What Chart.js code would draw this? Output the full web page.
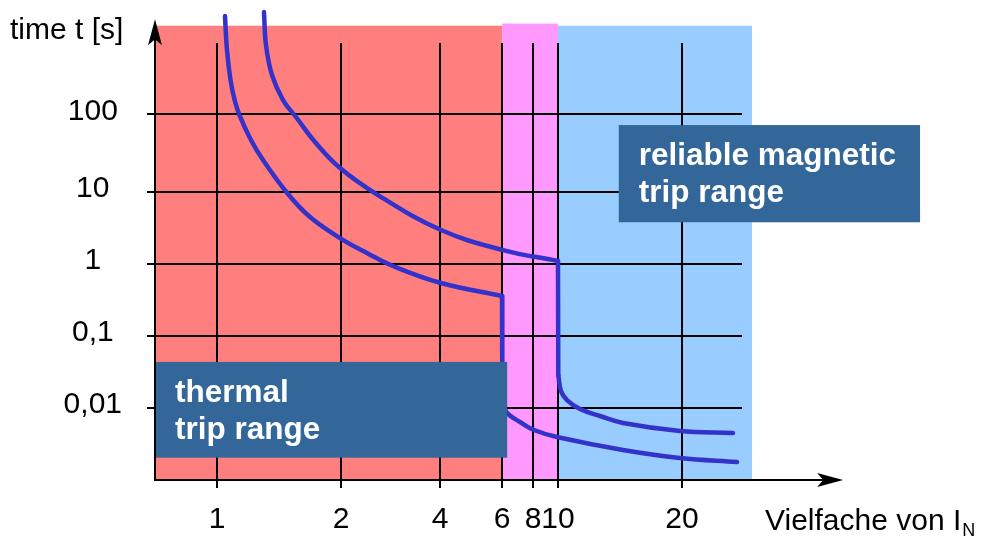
<!DOCTYPE html>
<html>
<head>
<meta charset="utf-8">
<script src="https://cdn.jsdelivr.net/npm/chart.js@4.4.1/dist/chart.umd.min.js"></script>
<style>
html, body { margin:0; padding:0; background:#fff; }
#wrap { width:985px; height:538px; }
</style>
</head>
<body>
<div id="wrap"><canvas id="chart" width="985" height="538"></canvas></div>
<script>
// ======= DATA =======
// schematic x axis: where each labelled multiple of I_N sits along the axis
const xTickLabels = ["1","2","4","6","8","10","20"];
const xTickPos    = [1, 3, 4.6, 5.6, 6.1, 6.5, 8.5];
// y axis: one step per decade of trip time
const yTickLabels = ["0,01","0,1","1","10","100"];
const yTickPos    = [1, 2, 3, 4, 5.08];

// lower trip curve (magnetic release at 6 x I_N)
const curveLowX = [1.129, 1.161, 1.218, 1.284, 1.363, 1.548, 1.742, 2.145, 2.500, 2.984, 3.419, 3.839, 4.613, 5.597, 5.602, 5.637, 5.694, 5.887, 6.113, 6.484, 7.548, 8.468, 9.387];
const curveLowY = [6.444, 5.972, 5.556, 5.278, 5.069, 4.722, 4.444, 3.972, 3.653, 3.361, 3.153, 2.972, 2.736, 2.556, 1.111, 1.000, 0.917, 0.806, 0.694, 0.597, 0.417, 0.306, 0.250];
const lowJump = 13;   // last point before the vertical drop
// upper trip curve (magnetic release at 10 x I_N)
const curveHighX = [1.758, 1.790, 1.887, 2.065, 2.274, 2.581, 2.984, 3.597, 4.613, 5.613, 6.500, 6.505, 6.548, 6.645, 6.855, 7.177, 7.548, 8.468, 9.323];
const curveHighY = [6.500, 6.042, 5.625, 5.278, 5.042, 4.694, 4.333, 3.958, 3.472, 3.194, 3.042, 1.458, 1.236, 1.111, 0.986, 0.889, 0.792, 0.681, 0.653];
const highJump = 10;

// trip zones along the x axis
const zoneFrom = [0, 5.6, 6.5];
const zoneTo   = [5.6, 6.5, 9.63];
const zoneTop  = [6.31, 6.34, 6.31];

// ======= STYLE =======
const FONT = "'Liberation Sans', Arial, sans-serif";
const zoneColors = ["#ff7f7f", "#ff99ff", "#99ccff"];
const LINE_COLOR = "#3333cc";
const BOX_COLOR = "#336699";

// label boxes: lines of text, x range and y range in axis units
const boxes = [
  { lines: ["thermal", "trip range"], x: [0, 5.68], y: [1.64, 0.31] },
  { lines: ["reliable magnetic", "trip range"], x: [7.48, 12.34], y: [4.93, 3.58] }
];

function pts(xs, ys, from, to){
  const out = [];
  for(let i = from; i <= to; i++) out.push({x: xs[i], y: ys[i]});
  return out;
}

// a curve is drawn as smooth upper part, straight drop, smooth lower part
function curveSets(xs, ys, jump){
  const base = {
    borderColor: LINE_COLOR, borderWidth: 4.5, pointRadius: 0, fill: false,
    clip: false, borderCapStyle: "round", borderJoinStyle: "round"
  };
  return [
    Object.assign({ data: pts(xs, ys, 0, jump), tension: 0.4 }, base),
    Object.assign({ data: pts(xs, ys, jump, jump + 1), tension: 0 }, base),
    Object.assign({ data: pts(xs, ys, jump + 1, xs.length - 1), tension: 0.4 }, base)
  ];
}

const decor = {
  id: "decor",
  beforeDraw(chart){
    const ctx = chart.ctx, xs = chart.scales.x, ys = chart.scales.y;
    ctx.save();
    zoneFrom.forEach((f,i) => {
      const x0 = xs.getPixelForValue(f), x1 = xs.getPixelForValue(zoneTo[i]);
      const y0 = ys.getPixelForValue(zoneTop[i]), y1 = ys.getPixelForValue(0);
      ctx.fillStyle = zoneColors[i];
      ctx.fillRect(x0, y0, x1 - x0, y1 - y0);
    });
    ctx.restore();
  },
  afterDatasetsDraw(chart){
    const ctx = chart.ctx, xs = chart.scales.x, ys = chart.scales.y;
    const a = chart.chartArea;
    ctx.save();
    // label boxes
    boxes.forEach(b => {
      const x0 = xs.getPixelForValue(b.x[0]), x1 = xs.getPixelForValue(b.x[1]);
      const y0 = ys.getPixelForValue(b.y[0]), y1 = ys.getPixelForValue(b.y[1]);
      ctx.fillStyle = BOX_COLOR;
      ctx.fillRect(x0, y0, x1 - x0, y1 - y0);
      ctx.fillStyle = "#fff";
      ctx.font = "bold 31.5px " + FONT;
      ctx.textBaseline = "alphabetic";
      ctx.textAlign = "left";
      b.lines.forEach((t, k) => ctx.fillText(t, x0 + 20, y0 + 40 + k * 37));
    });
    // axes with arrows
    const ox = a.left, oy = a.bottom;
    const yTip = ys.getPixelForValue(6.4), xTip = xs.getPixelForValue(11.1);
    ctx.strokeStyle = "#000"; ctx.fillStyle = "#000"; ctx.lineWidth = 2;
    ctx.beginPath();
    ctx.moveTo(ox, oy + 1); ctx.lineTo(ox, yTip + 10);
    ctx.moveTo(ox - 1, oy); ctx.lineTo(xTip - 10, oy);
    ctx.stroke();
    ctx.beginPath();
    ctx.moveTo(ox, yTip); ctx.lineTo(ox + 7, yTip + 26); ctx.lineTo(ox, yTip + 20); ctx.lineTo(ox - 7, yTip + 26);
    ctx.closePath(); ctx.fill();
    ctx.beginPath();
    ctx.moveTo(xTip, oy); ctx.lineTo(xTip - 26, oy - 7); ctx.lineTo(xTip - 20, oy); ctx.lineTo(xTip - 26, oy + 7);
    ctx.closePath(); ctx.fill();
    // axis titles
    ctx.font = "30px " + FONT;
    ctx.textAlign = "left"; ctx.textBaseline = "alphabetic";
    ctx.fillText("time t [s]", 10, 39);
    const main = "Vielfache von I";
    ctx.fillText(main, 765, 530);
    const w = ctx.measureText(main).width;
    ctx.font = "18px " + FONT;
    ctx.fillText("N", 765 + w + 1, 536);
    ctx.restore();
  }
};

new Chart(document.getElementById("chart"), {
  type: "line",
  data: {
    datasets: curveSets(curveLowX, curveLowY, lowJump).concat(curveSets(curveHighX, curveHighY, highJump))
  },
  options: {
    responsive: false,
    animation: false,
    devicePixelRatio: 1,
    layout: { padding: { top: 43, right: 243, left: 0, bottom: 0 } },
    plugins: { legend: { display: false }, tooltip: { enabled: false } },
    scales: {
      x: {
        type: "linear", min: 0, max: 9.468,
        afterBuildTicks: s => { s.ticks = xTickPos.map(v => ({ value: v })); },
        afterFit: s => { s.height = 58; },
        grid: { color: "#000", lineWidth: 2, tickLength: 8, drawTicks: true },
        border: { display: false },
        ticks: {
          autoSkip: false, maxRotation: 0, padding: 14, color: "#000",
          font: { family: FONT, size: 30 },
          callback: (v, i) => xTickLabels[i]
        }
      },
      y: {
        type: "linear", min: 0, max: 6.07,
        afterBuildTicks: s => { s.ticks = yTickPos.map(v => ({ value: v })); },
        afterFit: s => { s.width = 155; },
        grid: { color: "#000", lineWidth: 2, tickLength: 8, drawTicks: true },
        border: { display: false },
        ticks: {
          autoSkip: false, padding: 25, color: "#000", crossAlign: "center", labelOffset: -3,
          font: { family: FONT, size: 30 },
          callback: (v, i) => yTickLabels[i]
        }
      }
    }
  },
  plugins: [decor]
});
</script>
</body>
</html>
